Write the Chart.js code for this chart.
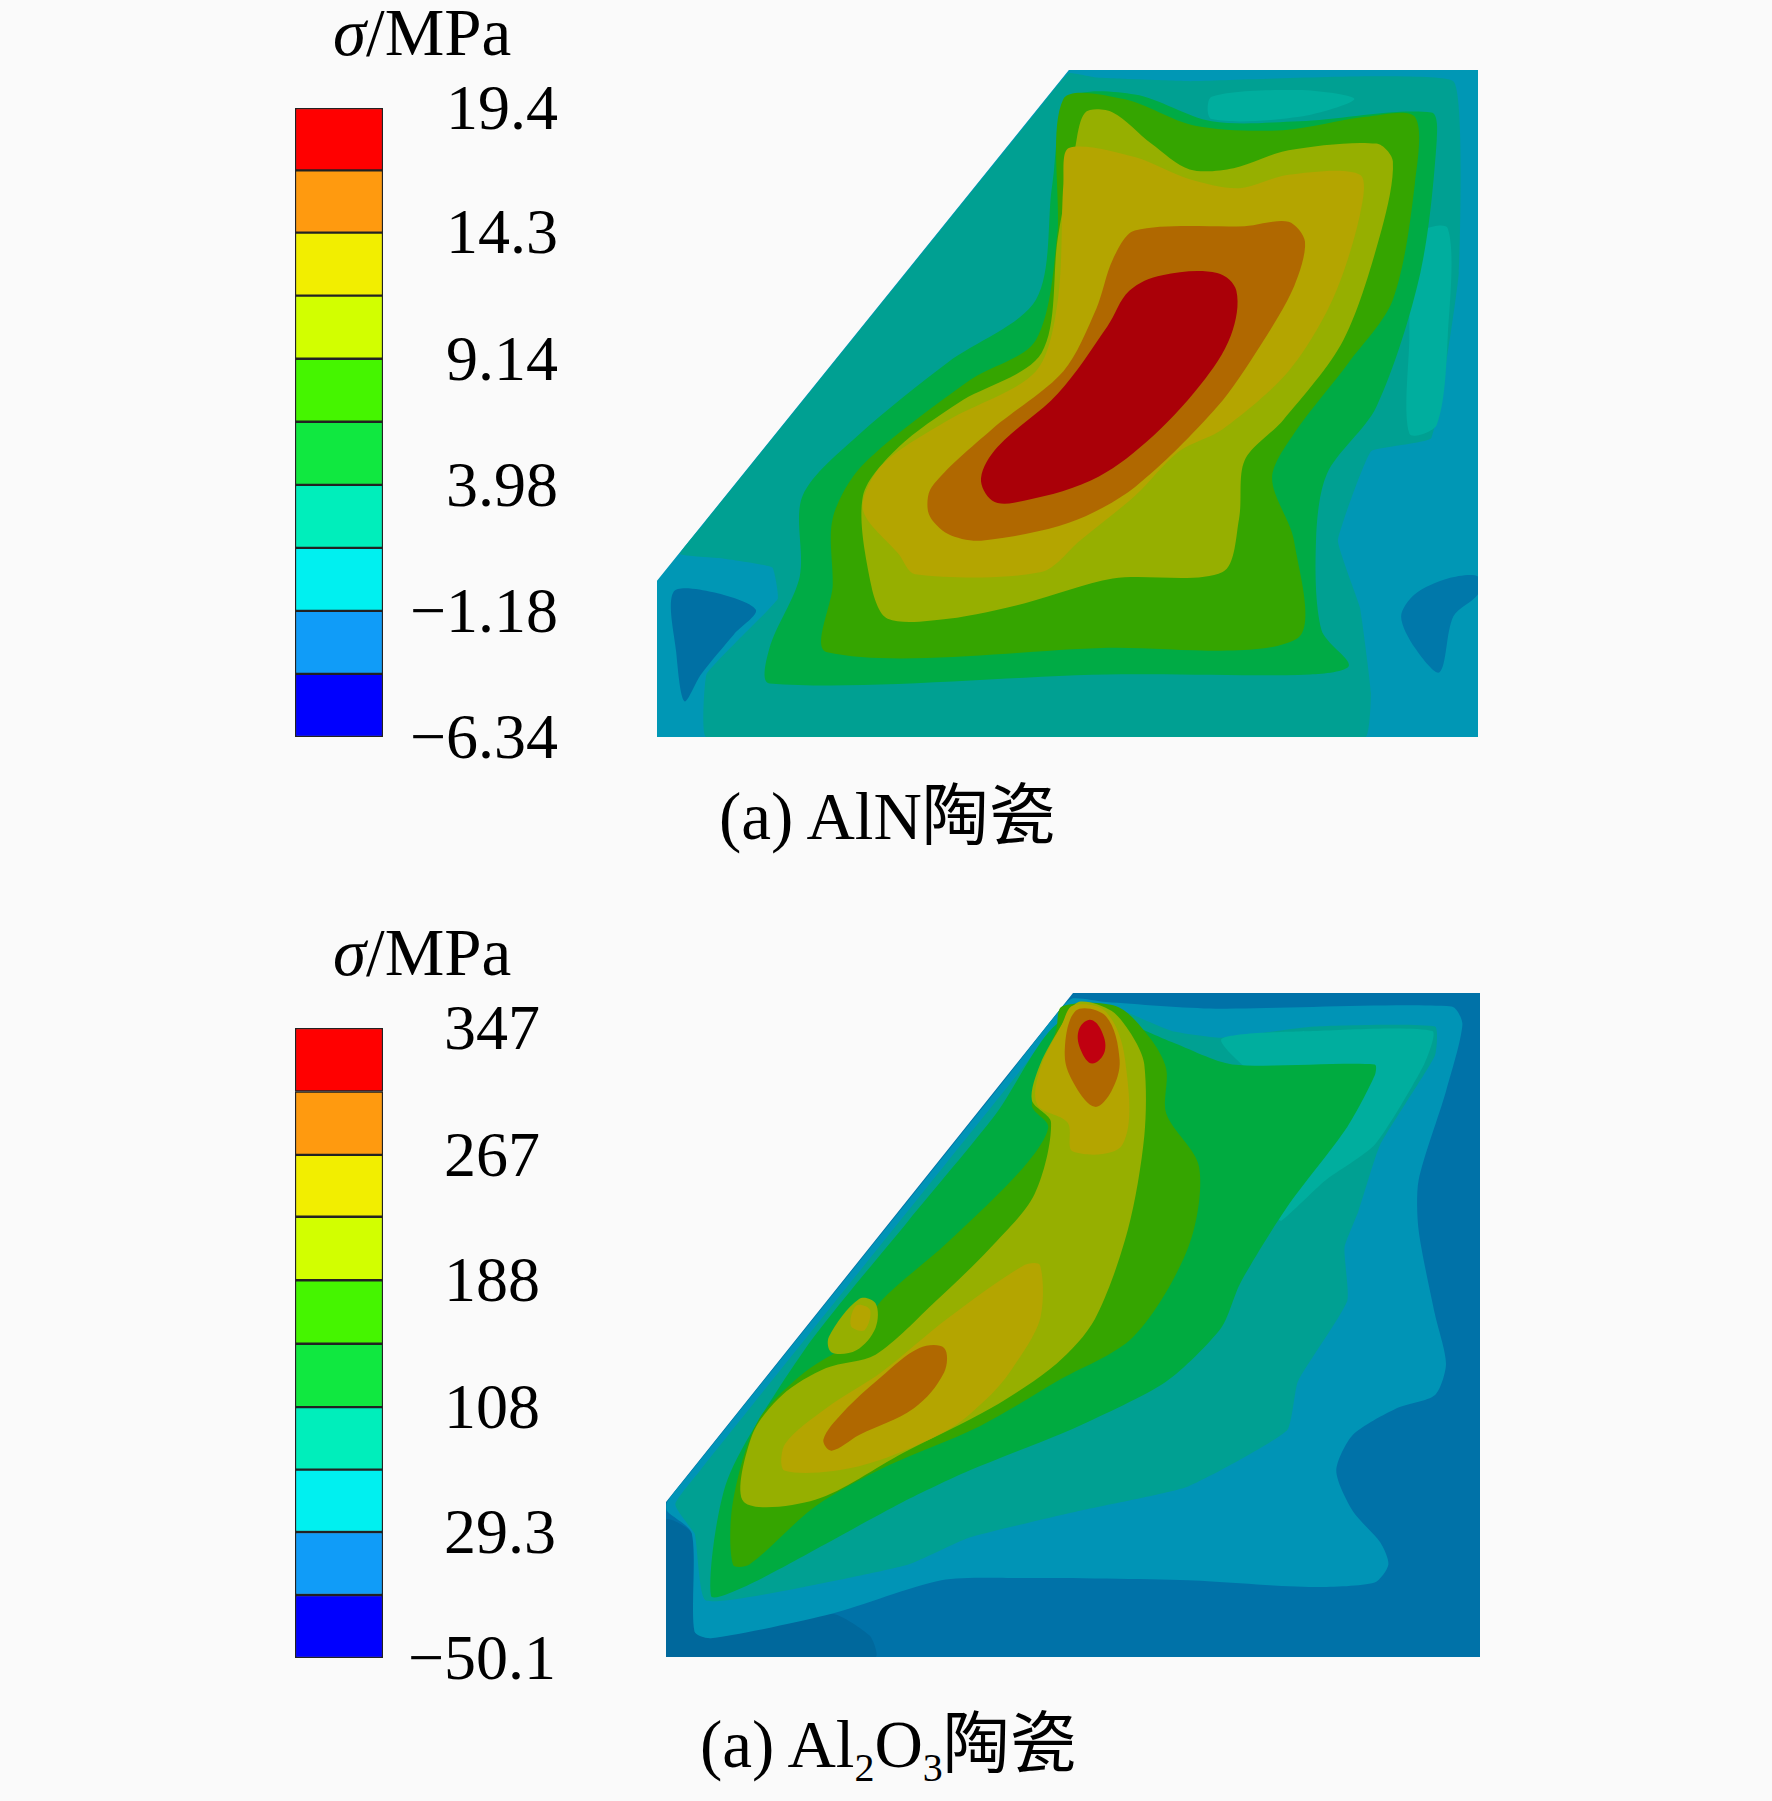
<!DOCTYPE html>
<html>
<head>
<meta charset="utf-8">
<title>σ/MPa</title>
<script src="https://cdn.jsdelivr.net/npm/chart.js@4/dist/chart.umd.min.js"></script>
<style>
    html, body { margin: 0; padding: 0; background: #fafafa; }
    body { position: relative; width: 1772px; height: 1801px; overflow: hidden; }
    canvas { position: absolute; }
    .txt {
        position: absolute; white-space: nowrap; color: #000; line-height: 1;
        font: 67px "Liberation Serif", "Noto Sans CJK SC", serif;
    }
    .txt i { font-style: italic; }
    .txt sub { font-size: 40px; line-height: 0; vertical-align: -14px; }
</style>
</head>
<body>
<div class="txt" style="left:333px;top:-6px"><i>σ</i>/MPa</div>
<div class="txt" style="left:719px;top:761px">(a) AlN陶瓷</div>
<div class="txt" style="left:333px;top:914px"><i>σ</i>/MPa</div>
<div class="txt" style="left:700px;top:1689px">(a) Al<sub>2</sub>O<sub>3</sub>陶瓷</div>

<canvas id="bar-aln" width="263" height="749" style="left:295px;top:48px"></canvas>
<canvas id="map-aln" width="821" height="667" style="left:657px;top:70px"></canvas>
<canvas id="bar-al2o3" width="261" height="750" style="left:295px;top:968px"></canvas>
<canvas id="map-al2o3" width="814" height="664" style="left:666px;top:993px"></canvas>

<script>
// legend levels, top to bottom
const LEVELS_ALN = [19.4, 16.85, 14.3, 11.72, 9.14, 6.56, 3.98, 1.4, -1.18, -3.76, -6.34];
const TICKS_ALN = [19.4, 14.3, 9.14, 3.98, -1.18, -6.34];
const TICK_LABELS_ALN = ["19.4", "14.3", "9.14", "3.98", "−1.18", "−6.34"];

const LEVELS_AL2O3 = [347, 307, 267, 228, 188, 148, 108, 68.6, 29.3, -10.4, -50.1];
const TICKS_AL2O3 = [347, 267, 188, 108, 29.3, -50.1];
const TICK_LABELS_AL2O3 = ["347 ", "267 ", "188 ", "108 ", "29.3", "−50.1"];

const LEGEND_COLORS = ["#ff0000", "#ff9a0f", "#f2ee00", "#d2ff00", "#45f500", "#10e840", "#00eebb", "#00f0f0", "#109cf8", "#0000ff"];

// AlN contour outlines (section coordinates, y down)
const ALN_OUTLINE = [[30,1190],[780,45],[1525,45],[1525,1540],[30,1540],[30,1190]];
const ALN_TEAL = [[72,1130],[117,1060],[733,120],[780,52],[830,62],[1000,70],[1480,70],[1490,500],[1440,870],[1330,900],[1270,1100],[1310,1250],[1330,1440],[1320,1540],[120,1540],[120,1400],[180,1320],[250,1230],[240,1160],[150,1140],[72,1130]];
const ALN_LIGHT_RIGHT = [[1410,420],[1470,400],[1470,640],[1450,840],[1400,860],[1400,650],[1410,420]];
const ALN_LIGHT_TOP = [[1040,105],[1200,90],[1300,110],[1200,150],[1040,155],[1040,105]];
const ALN_GREEN1 = [[780,110],[900,100],[1040,160],[1200,160],[1440,140],[1450,200],[1420,500],[1340,800],[1250,950],[1230,1100],[1240,1300],[1290,1380],[1220,1400],[850,1400],[235,1420],[235,1340],[290,1180],[295,1000],[400,860],[560,700],[720,560],[750,300],[780,110]];
const ALN_GREEN2 = [[770,110],[880,110],[1010,170],[1170,180],[1320,150],[1410,150],[1410,300],[1370,560],[1290,700],[1190,860],[1150,960],[1190,1100],[1195,1320],[850,1340],[340,1350],[350,1200],[350,1050],[405,930],[600,740],[720,650],[760,400],[770,110]];
const ALN_YGREEN = [[810,140],[860,140],[930,210],[1000,268],[1080,265],[1180,225],[1340,210],[1370,250],[1350,400],[1280,650],[1170,830],[1100,920],[1090,1050],[1060,1170],[860,1185],[700,1240],[560,1275],[450,1275],[420,1200],[405,1000],[470,890],[580,790],[730,680],[760,420],[790,230],[810,140]];
const ALN_OLIVE = [[780,220],[900,240],[1000,290],[1090,310],[1180,280],[1310,280],[1310,370],[1260,560],[1180,720],[1060,850],[980,900],[900,1000],[800,1100],[730,1170],[500,1175],[470,1130],[405,1030],[440,930],[560,830],[720,720],[760,560],[770,300],[780,220]];
const ALN_ORANGE = [[900,405],[1100,395],[1180,385],[1210,430],[1190,530],[1130,660],[1050,800],[900,980],[780,1060],[620,1100],[560,1085],[525,1040],[530,980],[640,850],[770,720],[830,580],[860,470],[900,405]];
const ALN_RED = [[950,505],[1050,500],[1085,540],[1075,640],[1020,750],[920,880],[820,965],[680,1015],[640,1010],[620,960],[650,890],[760,770],[850,620],[890,540],[950,505]];
const ALN_DARK_LEFT = [[60,1215],[130,1215],[210,1255],[170,1310],[110,1400],[80,1460],[65,1350],[60,1215]];
const ALN_DARK_RIGHT = [[1525,1180],[1470,1185],[1410,1220],[1385,1270],[1410,1340],[1455,1395],[1480,1270],[1525,1220],[1525,1180]];

const ALN_LAYERS = [ALN_OUTLINE, ALN_DARK_LEFT, ALN_DARK_RIGHT, ALN_TEAL, ALN_LIGHT_RIGHT, ALN_LIGHT_TOP, ALN_GREEN1, ALN_GREEN2, ALN_YGREEN, ALN_OLIVE, ALN_ORANGE, ALN_RED];
const ALN_COLORS = ["#0097b5", "#0070a4", "#0078aa", "#00a092", "#00ae9e", "#00ae9e", "#00ab45", "#35a500", "#96af00", "#b4a500", "#b06800", "#aa0008"];
const ALN_TENSION = [0, 0.3, 0.3, 0.1, 0.3, 0.3, 0.3, 0.3, 0.3, 0.3, 0.3, 0.35];

// Al2O3 contour outlines
const AL2O3_OUTLINE = [[48,1170],[790,30],[1532,30],[1532,1517],[48,1517],[48,1170]];
const AL2O3_DARK = [[48,1210],[95,1240],[100,1460],[130,1475],[350,1420],[420,1470],[430,1517],[48,1517],[48,1210]];
const AL2O3_BLUE = [[50,1170],[95,1100],[675,210],[770,62],[790,42],[850,50],[1050,65],[1480,60],[1500,100],[1470,250],[1420,450],[1420,560],[1450,750],[1470,860],[1450,930],[1380,960],[1300,1020],[1270,1100],[1300,1190],[1350,1260],[1365,1310],[1340,1350],[1220,1360],[1000,1345],[700,1340],[550,1345],[350,1420],[130,1475],[100,1460],[95,1240],[50,1190],[50,1170]];
const AL2O3_TEAL = [[65,1175],[110,1100],[690,210],[785,62],[800,50],[880,70],[970,115],[1060,130],[1230,105],[1450,105],[1450,170],[1350,370],[1310,520],[1285,600],[1290,720],[1200,900],[1180,1010],[1000,1135],[800,1190],[600,1250],[490,1310],[300,1360],[120,1390],[100,1240],[65,1175]];
const AL2O3_LIGHT = [[1060,135],[1230,115],[1445,115],[1430,190],[1340,370],[1250,450],[1170,540],[1160,530],[1200,300],[1060,135]];
const AL2O3_GREEN1 = [[865,90],[970,140],[1080,190],[1340,190],[1340,215],[1290,330],[1180,510],[1095,680],[1060,780],[960,900],[800,1000],[600,1100],[480,1170],[300,1290],[190,1360],[130,1380],[160,1120],[300,830],[490,540],[650,300],[760,100],[865,90]];
const AL2O3_GREEN2 = [[770,60],[870,60],[930,130],[960,200],[960,300],[1020,420],[1000,600],[900,800],[760,900],[620,1000],[450,1090],[320,1180],[200,1310],[170,1310],[170,1170],[215,990],[300,880],[400,800],[440,720],[560,590],[700,420],[745,330],[715,280],[760,110],[770,60]];
const AL2O3_YGREEN = [[800,50],[860,70],[900,130],[920,190],[920,350],[890,560],[830,760],[760,860],[640,960],[480,1060],[320,1165],[190,1170],[205,1020],[260,930],[340,870],[430,840],[540,720],[640,600],[720,480],[750,320],[715,270],[730,190],[770,100],[800,50]];
const AL2O3_OLIVE_TOP = [[790,58],[850,72],[885,180],[880,370],[790,385],[780,320],[725,280],[730,200],[770,100],[790,58]];
const AL2O3_OLIVE_LOW = [[700,640],[730,640],[730,760],[680,870],[640,930],[560,1010],[400,1090],[265,1100],[265,1040],[340,960],[440,880],[560,760],[700,640]];
const AL2O3_ORANGE_TOP = [[795,70],[850,82],[875,180],[860,250],[830,285],[795,240],[775,170],[795,70]];
const AL2O3_ORANGE_LOW = [[510,825],[555,825],[555,880],[500,960],[400,1020],[350,1055],[335,1030],[370,970],[440,890],[510,825]];
const AL2O3_RED = [[820,90],[840,110],[848,160],[825,188],[805,160],[800,115],[820,90]];
const AL2O3_ISLAND = [[400,715],[430,725],[430,780],[395,830],[350,835],[345,800],[400,715]];
const AL2O3_ISLAND_IN = [[395,730],[420,740],[410,785],[385,775],[395,730]];

const AL2O3_LAYERS = [AL2O3_OUTLINE, AL2O3_DARK, AL2O3_BLUE, AL2O3_TEAL, AL2O3_LIGHT, AL2O3_GREEN1, AL2O3_GREEN2, AL2O3_ISLAND, AL2O3_ISLAND_IN, AL2O3_YGREEN, AL2O3_OLIVE_TOP, AL2O3_OLIVE_LOW, AL2O3_ORANGE_TOP, AL2O3_ORANGE_LOW, AL2O3_RED];
const AL2O3_COLORS = ["#0072a8", "#00689c", "#0094b6", "#00a092", "#00ae9e", "#00ab40", "#35a500", "#96af00", "#b4a500", "#96af00", "#b4a500", "#b4a500", "#b06800", "#b06800", "#c00010"];
const AL2O3_TENSION = [0, 0.2, 0.25, 0.15, 0.2, 0.25, 0.3, 0.35, 0.35, 0.3, 0.35, 0.3, 0.35, 0.35, 0.4];

Chart.defaults.animation = false;
Chart.defaults.responsive = false;
Chart.defaults.devicePixelRatio = 1;

const $ = id => document.getElementById(id);

function createLegendBar(canvasId, levels, ticks, tickLabels, axisWidth) {
    const datasets = LEGEND_COLORS.map((color, i) => ({
        data: [[levels[i + 1], levels[i]]],
        backgroundColor: color,
        borderColor: "#222",
        borderWidth: 1.5,
        borderSkipped: false,
        barPercentage: 1,
        categoryPercentage: 1,
        grouped: false
    }));
    return new Chart($(canvasId), {
        type: "bar",
        data: { labels: ["σ"], datasets },
        options: {
            layout: { padding: { top: 60, bottom: 60 } },
            plugins: { legend: { display: false }, tooltip: { enabled: false } },
            scales: {
                x: { display: false },
                y: {
                    position: "right",
                    min: levels[levels.length - 1],
                    max: levels[0],
                    border: { display: false },
                    grid: { display: false },
                    afterFit: axis => { axis.width = axisWidth; },
                    afterBuildTicks: axis => { axis.ticks = ticks.map(value => ({ value })); },
                    ticks: {
                        crossAlign: "far",
                        padding: 0,
                        labelOffset: 4,
                        color: "#000",
                        autoSkip: false,
                        font: { family: "'Liberation Serif', serif", size: 64 },
                        callback: value => tickLabels[ticks.indexOf(value)]
                    }
                }
            }
        }
    });
}

// the outline is run a little past its start so the spline has no kink where it closes
function closeLoop(outline, tension) {
    if (!tension) return outline;
    return [outline[outline.length - 2], ...outline, outline[1]];
}

function createContourMap(canvasId, layers, colors, tension, xRange, yRange) {
    const datasets = layers.map((outline, i) => ({
        data: closeLoop(outline, tension[i]),
        order: layers.length - i,
        showLine: true,
        fill: "shape",
        tension: tension[i],
        backgroundColor: colors[i],
        borderWidth: 0,
        pointRadius: 0
    }));
    return new Chart($(canvasId), {
        type: "scatter",
        data: { datasets },
        options: {
            plugins: { legend: { display: false }, tooltip: { enabled: false } },
            scales: {
                x: { type: "linear", display: false, min: xRange[0], max: xRange[1] },
                y: { type: "linear", display: false, reverse: true, min: yRange[0], max: yRange[1] }
            }
        }
    });
}

createLegendBar("bar-aln", LEVELS_ALN, TICKS_ALN, TICK_LABELS_ALN, 175);
createLegendBar("bar-al2o3", LEVELS_AL2O3, TICKS_AL2O3, TICK_LABELS_AL2O3, 173);
createContourMap("map-aln", ALN_LAYERS, ALN_COLORS, ALN_TENSION, [30, 1525], [45, 1540]);
createContourMap("map-al2o3", AL2O3_LAYERS, AL2O3_COLORS, AL2O3_TENSION, [48, 1532], [30, 1517]);
</script>
</body>
</html>
